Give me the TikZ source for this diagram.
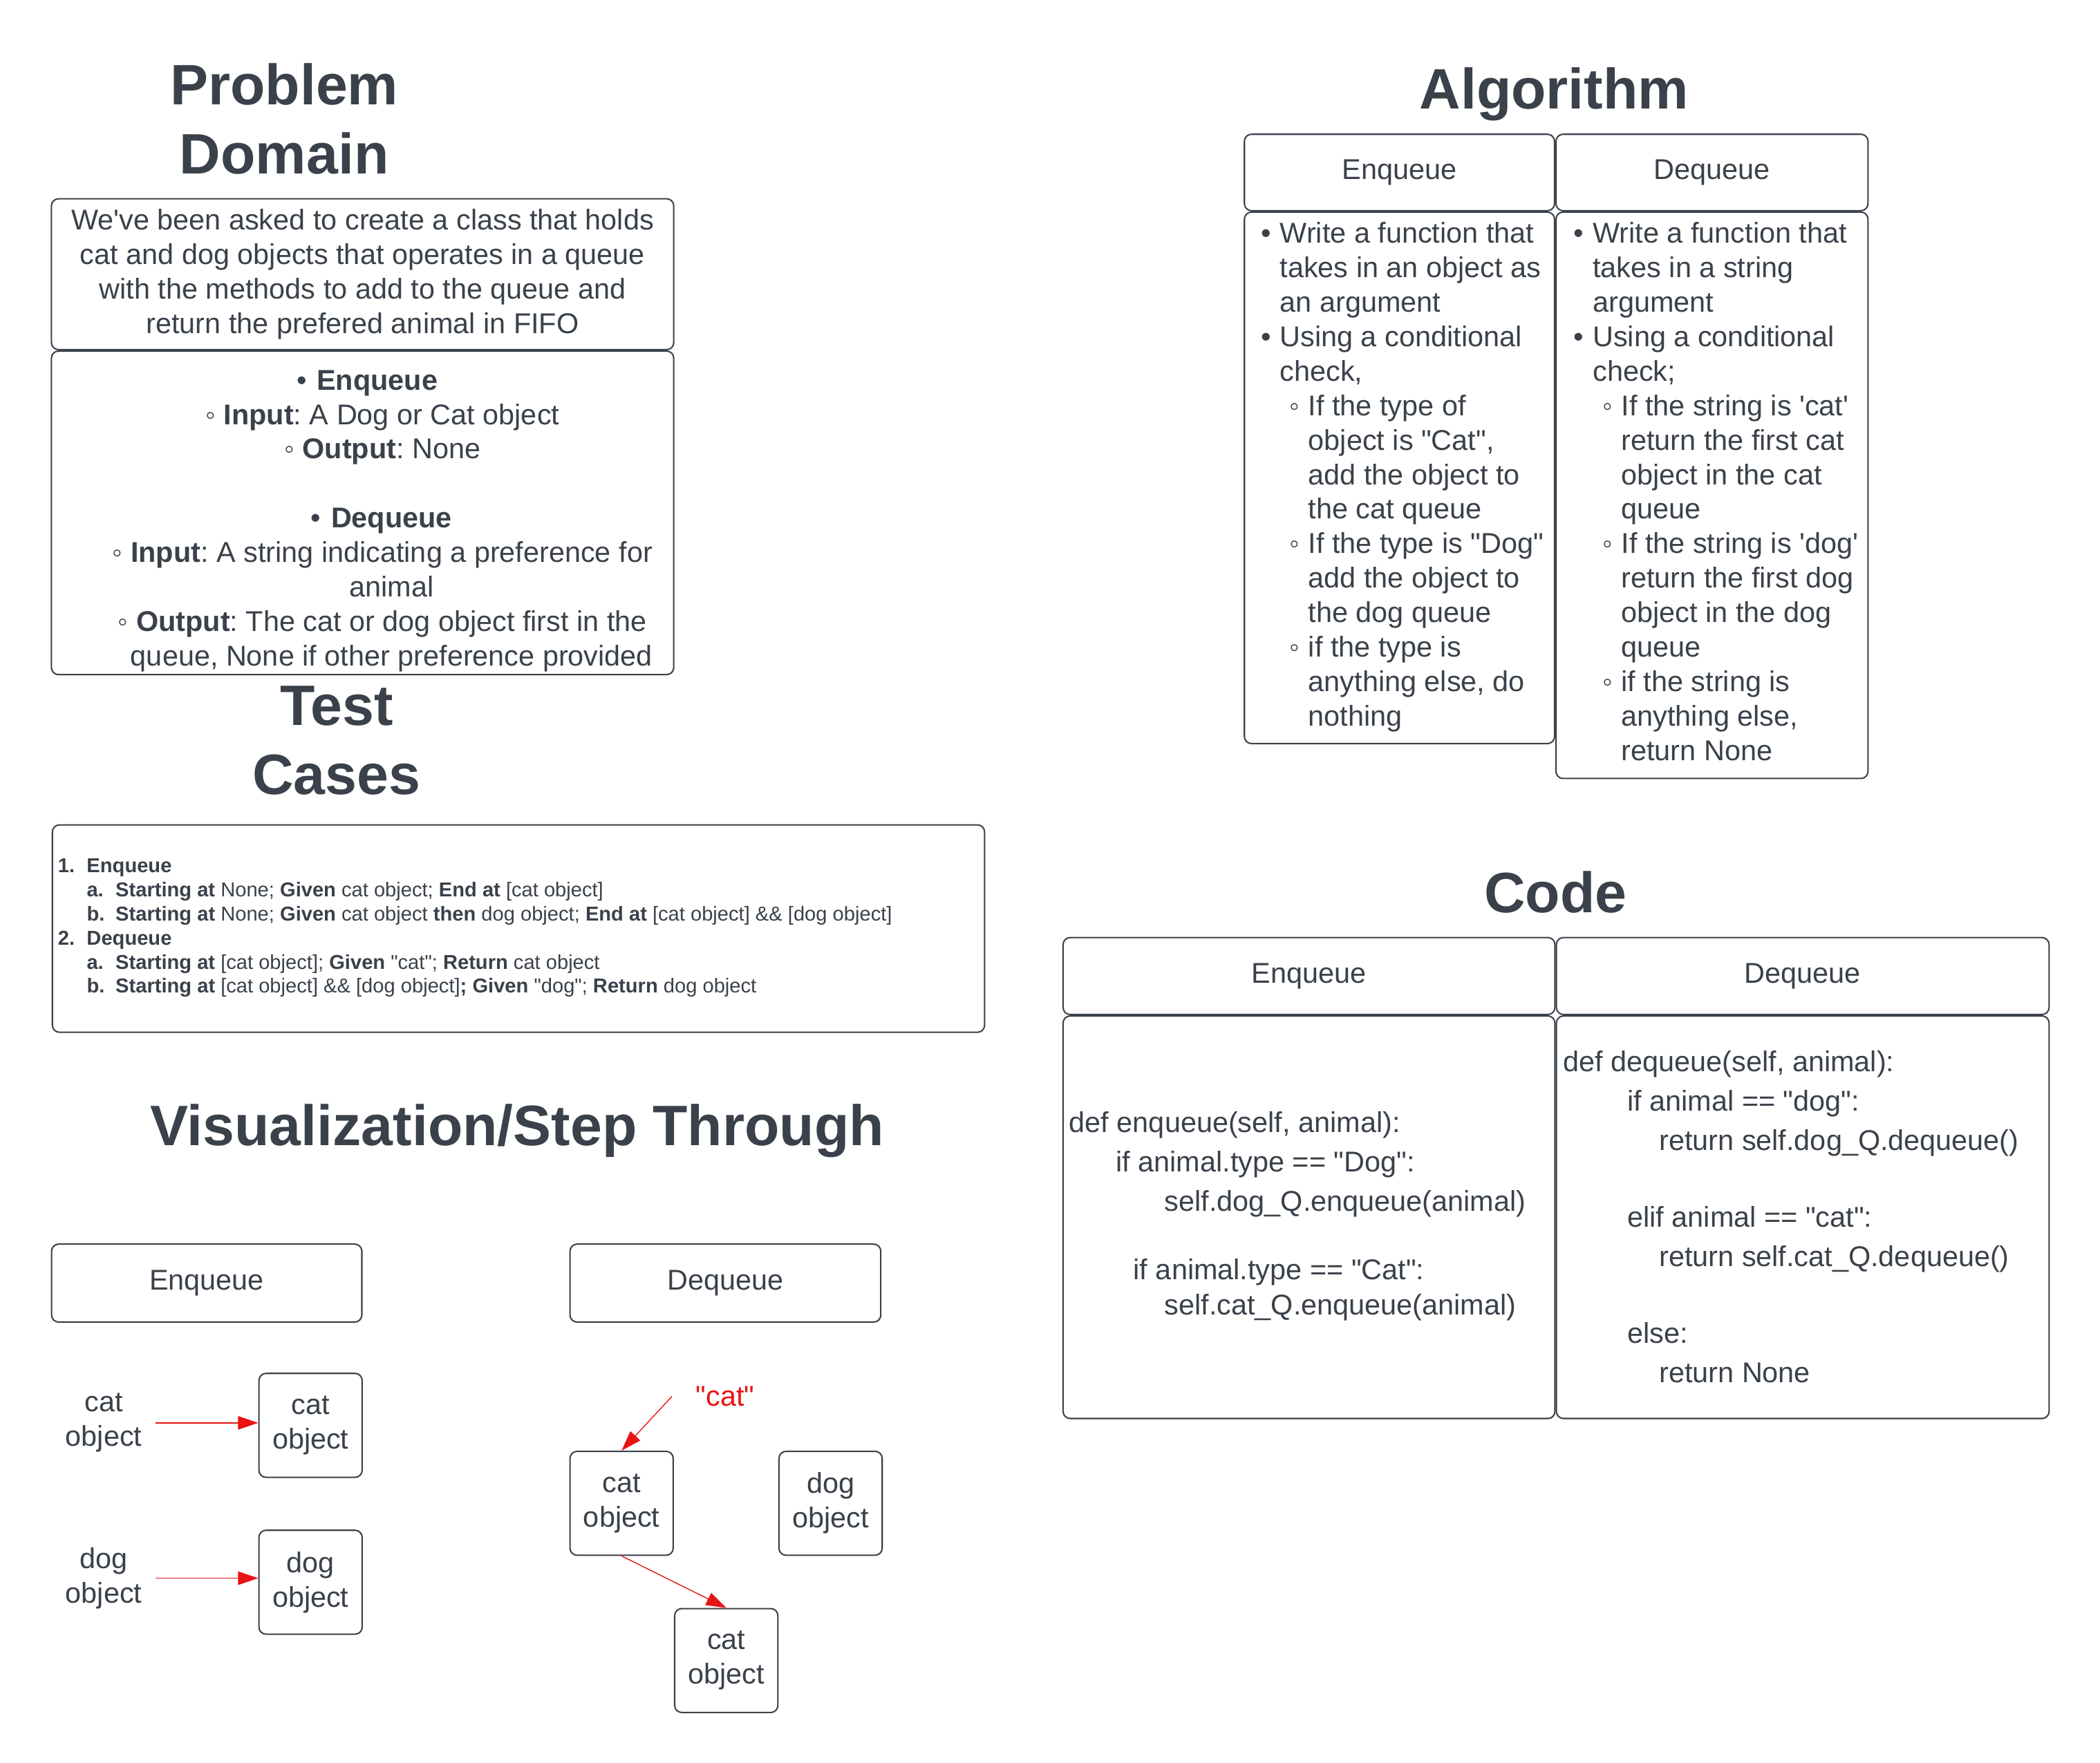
\documentclass[tikz,border=0pt]{standalone}
\usepackage{fontspec}
\setmainfont{Liberation Sans}[Ligatures=TeXOff]
\usepackage{tikz}
\usetikzlibrary{arrows.meta,positioning}
\frenchspacing

\definecolor{ink}{HTML}{3A414A}
\definecolor{catred}{HTML}{E81313}

\newcommand{\bodyfont}{\fontsize{12.1pt}{14.58pt}\selectfont}
\newcommand{\codefont}{\fontsize{12.1pt}{16.6pt}\selectfont}
\newcommand{\headfont}{\fontsize{24.1pt}{29.2pt}\selectfont\bfseries}
\newcommand{\testfont}{\fontsize{8.51pt}{10.17pt}\selectfont}
\newcommand{\pdone}{\llap{\makebox[0.3cm][l]{\textbullet}}}
\newcommand{\pdtwo}{\llap{\makebox[0.27cm][l]{◦}}}
\newcommand{\lvone}{\makebox[0.282cm][l]{\textbullet}}
\newcommand{\lvtwo}{\hspace*{0.426cm}\makebox[0.279cm][l]{◦}}
\newcommand{\contone}{\hspace*{0.282cm}}
\newcommand{\conttwo}{\hspace*{0.705cm}}
\newcommand{\tcnum}[1]{\makebox[0.428cm][l]{\textbf{#1}}}
\newcommand{\tcsub}[1]{\hspace*{0.428cm}\makebox[0.428cm][l]{\textbf{#1}}}

\begin{document}
\begin{tikzpicture}[
	box/.style={draw=ink,line width=0.6pt,rounded corners=3pt,inner sep=0pt,align=center},
	objbox/.style={box,minimum width=1.534cm,minimum height=1.544cm},
	heading/.style={font=\headfont,text=ink,align=center,inner sep=0pt},
	plain/.style={inner sep=0pt},
	link/.style={draw=catred,line width=0.4pt,-{Triangle[length=3mm,width=2mm]}}
]
	\useasboundingbox (0,0) rectangle (31.2,-26.19);
	\begin{scope}[every node/.style={font=\bodyfont,text=ink}]
		\node[heading] (PD) at (4.223,-1.764) {Problem\\Domain};
		\node[box,minimum width=9.246cm,minimum height=2.242cm] (desc) at (5.387,-4.075) {We've been asked to create a class that holds\\cat and dog objects that operates in a queue\\with the methods to add to the queue and\\return the prefered animal in FIFO};
		\node[box,minimum width=9.246cm,minimum height=4.808cm,below=0pt of desc] (io) {};
		\node[plain,align=center,anchor=north] (ioText) at (5.818,-5.494) {\pdone\textbf{Enqueue}\hspace*{0.428cm}\\
			\pdtwo\textbf{Input}: A Dog or Cat object\\
			\pdtwo\textbf{Output}: None\\
			\mbox{}\\
			\pdone\textbf{Dequeue}\hspace*{0.428cm}\\
			\pdtwo\textbf{Input}: A string indicating a preference for\\
			animal\\
			\pdtwo\textbf{Output}: The cat or dog object first in the\\
			queue, None if other preference provided};

		\node[heading] (TC) at (5.0,-11.002) {Test\\Cases};
		\node[box,minimum width=13.85cm,minimum height=3.082cm] (tests) at (7.703,-13.799) {};
		\node[plain,align=left,anchor=north west,font=\testfont] (testList) at (0.854,-12.757) {\tcnum{1.}\textbf{Enqueue}\\
			\tcsub{a.}\textbf{Starting at} None; \textbf{Given} cat object; \textbf{End at} [cat object]\\
			\tcsub{b.}\textbf{Starting at} None; \textbf{Given} cat object \textbf{then} dog object; \textbf{End at} [cat object] \&\& [dog object]\\
			\tcnum{2.}\textbf{Dequeue}\\
			\tcsub{a.}\textbf{Starting at} [cat object]; \textbf{Given} "cat"; \textbf{Return} cat object\\
			\tcsub{b.}\textbf{Starting at} [cat object] \&\& [dog object]\textbf{; Given} "dog"; \textbf{Return} dog object};

		\node[heading,anchor=base] (Viz) at (7.682,-17.024) {Visualization/Step Through};
		\node[box,minimum width=4.61cm,minimum height=1.158cm] (vizEnq) at (3.071,-19.067) {Enqueue};
		\node[box,minimum width=4.618cm,minimum height=1.158cm] (vizDeq) at (10.777,-19.067) {Dequeue};
		\node[objbox] (catQ) at (4.614,-21.181) {cat\\object};
		\node[objbox,below=0.766cm of catQ] (dogQ) {dog\\object};
		\node[align=center,inner xsep=0.19cm] (catIn) at (1.542,-21.144) {cat\\object};
		\node[align=center,inner xsep=0.19cm] (dogIn) at (1.542,-23.452) {dog\\object};
		\node[objbox] (catD) at (9.235,-22.339) {cat\\object};
		\node[objbox,right=1.55cm of catD] (dogD) {dog\\object};
		\node[objbox,below right=0.772cm and 0cm of catD] (catOut) {cat\\object};
		\node[text=catred,inner xsep=0.35cm] (catStr) at (10.775,-20.75) {"cat"};

		\node[heading,anchor=base] (Alg) at (23.09,-1.616) {Algorithm};
		\node[box,minimum width=4.608cm,minimum height=1.136cm] (algEnq) at (20.792,-2.563) {Enqueue};
		\node[box,minimum width=4.636cm,minimum height=1.136cm,right=0pt of algEnq] (algDeq) {Dequeue};
		\node[box,minimum width=4.608cm,minimum height=7.898cm,below=0pt of algEnq] (algEnqBody) {};
		\node[box,minimum width=4.636cm,minimum height=8.416cm,below=0pt of algDeq] (algDeqBody) {};
		\node[plain,align=left,anchor=north west] (enqSteps) at ([xshift=0.25cm,yshift=-0.156cm]algEnqBody.north west) {\lvone Write a function that\\
			\contone takes in an object as\\
			\contone an argument\\
			\lvone Using a conditional\\
			\contone check,\\
			\lvtwo If the type of\\
			\conttwo object is "Cat",\\
			\conttwo add the object to\\
			\conttwo the cat queue\\
			\lvtwo If the type is "Dog"\\
			\conttwo add the object to\\
			\conttwo the dog queue\\
			\lvtwo if the type is\\
			\conttwo anything else, do\\
			\conttwo nothing};
		\node[plain,align=left,anchor=north west] (deqSteps) at ([xshift=0.27cm,yshift=-0.156cm]algDeqBody.north west) {\lvone Write a function that\\
			\contone takes in a string\\
			\contone argument\\
			\lvone Using a conditional\\
			\contone check;\\
			\lvtwo If the string is 'cat'\\
			\conttwo return the first cat\\
			\conttwo object in the cat\\
			\conttwo queue\\
			\lvtwo If the string is 'dog'\\
			\conttwo return the first dog\\
			\conttwo object in the dog\\
			\conttwo queue\\
			\lvtwo if the string is\\
			\conttwo anything else,\\
			\conttwo return None};

		\node[heading,anchor=base] (Code) at (23.112,-13.564) {Code};
		\node[box,minimum width=7.308cm,minimum height=1.144cm] (codeEnq) at (19.448,-14.504) {Enqueue};
		\node[box,minimum width=7.32cm,minimum height=1.144cm,right=0pt of codeEnq] (codeDeq) {Dequeue};
		\node[box,minimum width=7.308cm,minimum height=5.982cm,below=0pt of codeEnq] (codeEnqBody) {};
		\node[box,minimum width=7.32cm,minimum height=5.982cm,below=0pt of codeDeq] (codeDeqBody) {};
		\node[plain,align=left,anchor=north west,font=\codefont] (enqCode) at ([xshift=0.096cm,yshift=-1.426cm]codeEnqBody.north west) {def enqueue(self, animal):\\
			\hspace*{0.694cm}if animal.type == "Dog":\\
			\hspace*{1.416cm}self.dog\_Q.enqueue(animal)\\[12.53pt]
			\hspace*{0.954cm}if animal.type == "Cat":\\[-1.69pt]
			\hspace*{1.416cm}self.cat\_Q.enqueue(animal)};
		\node[plain,align=left,anchor=north west,font=\codefont] (deqCode) at ([xshift=0.108cm,yshift=-0.524cm]codeDeqBody.north west) {def dequeue(self, animal):\\
			\hspace*{0.952cm}if animal == "dog":\\
			\hspace*{1.424cm}return self.dog\_Q.dequeue()\\[15.95pt]
			\hspace*{0.952cm}elif animal == "cat":\\
			\hspace*{1.424cm}return self.cat\_Q.dequeue()\\[15.95pt]
			\hspace*{0.952cm}else:\\
			\hspace*{1.424cm}return None};
	\end{scope}

	\begin{scope}
		\draw[link] (catIn.east) -- (catIn.east -| catQ.west);
		\draw[link] (dogIn.east) -- (dogIn.east -| dogQ.west);
		\draw[link] (catStr.west) -- (catD.north);
		\draw[link] (catD.south) -- (catOut.north);
	\end{scope}
\end{tikzpicture}
\end{document}
